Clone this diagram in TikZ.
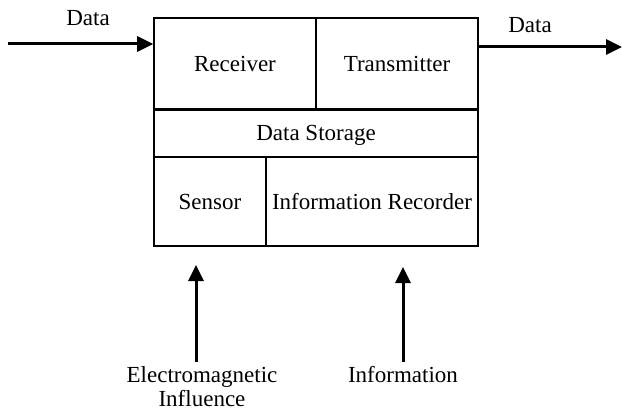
\documentclass[tikz,border=0pt]{standalone}
\usepackage{fontspec}
\setmainfont{Liberation Serif}
\usetikzlibrary{arrows.meta}
\begin{document}
\begin{tikzpicture}[x=1pt,y=-1pt,
  every node/.style={font=\fontsize{23}{27}\selectfont, inner sep=0pt},
  cell/.style={draw, line width=1.6pt, rectangle, align=center,
    text height=15pt, text depth=0pt},
  lbl/.style={align=center, anchor=base},
  arr/.style={line width=3pt, -{Triangle[length=16pt,width=15pt]}}]
  \useasboundingbox (0,0) rectangle (622,412);

  % unit blocks
  \node[cell, minimum width=162pt, minimum height=92pt] (rec) at (235,64) {Receiver};
  \node[cell, minimum width=162pt, minimum height=92pt] (tx)  at (397,64) {Transmitter};
  \node[cell, minimum width=324pt, minimum height=47pt] (store) at (316,133.5) {Data Storage};
  \node[cell, minimum width=112pt, minimum height=89pt] (sen) at (210,201.5) {Sensor};
  \node[cell, minimum width=212pt, minimum height=89pt] (rcd) at (372,201.5) {Information Recorder};
  \draw[line width=2.8pt] (store.north west) -- (store.north east);

  % data flow in and out
  \coordinate (inL) at (8,44);
  \coordinate (outR) at (622,47);
  \node[lbl] (din) at (88,26) {Data};
  \node[lbl] (dout) at (530,33) {Data};
  \draw[arr] (inL) -- (inL -| rec.west);
  \draw[arr] (outR -| tx.east) -- (outR);

  % external inputs
  \node[lbl] (em) at (202,382) {Electromagnetic};
  \node[lbl] (em2) at (202,406) {Influence};
  \node[lbl] (info) at (403,382) {Information};
  \coordinate (emTip) at (196,265);
  \coordinate (infoTip) at (403,267);
  \draw[arr] (emTip |- 0,362) -- (emTip);
  \draw[arr] (infoTip |- 0,362) -- (infoTip);
\end{tikzpicture}
\end{document}
